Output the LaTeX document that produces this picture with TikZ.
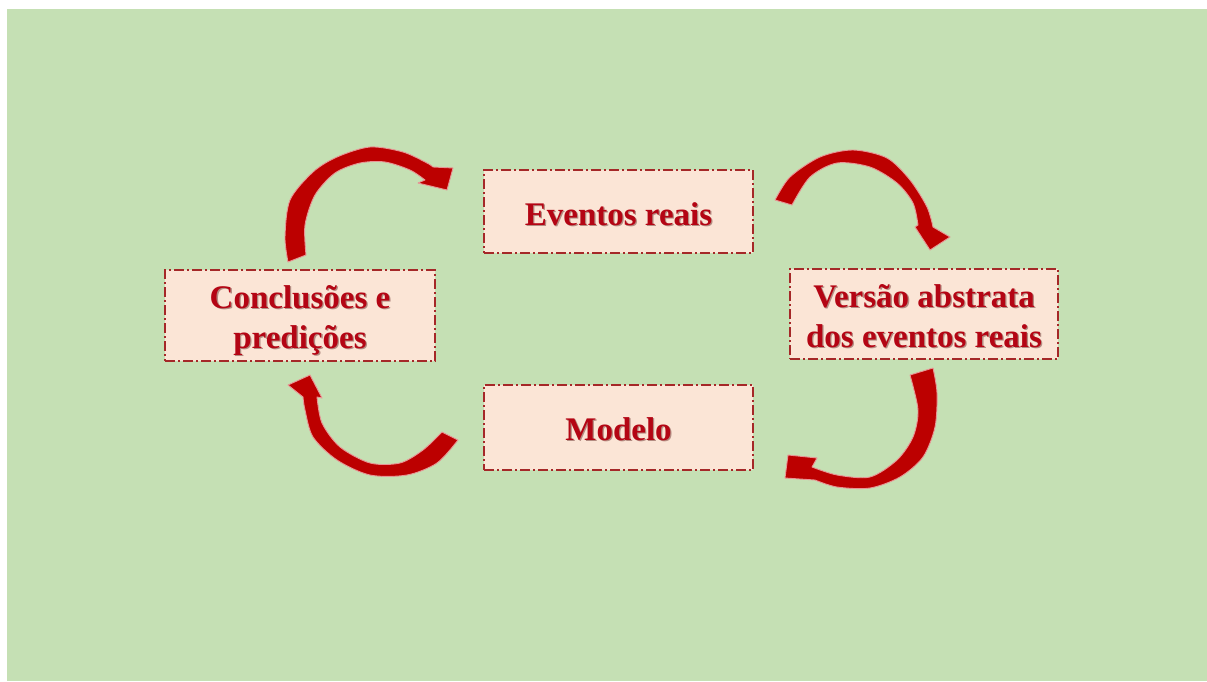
\documentclass[tikz,border=0pt]{standalone}
\usepackage{fontspec}
\setmainfont{Liberation Serif}
\definecolor{bggreen}{RGB}{197,224,180}
\definecolor{boxfill}{RGB}{251,229,214}
\definecolor{boxline}{RGB}{165,40,40}
\definecolor{txtred}{RGB}{180,5,20}
\definecolor{shadowc}{RGB}{180,140,130}
\definecolor{arrred}{RGB}{188,0,0}
\definecolor{arrglow}{RGB}{232,150,150}
\newcommand\shtext[1]{\leavevmode\rlap{\raisebox{-1.3pt}{\hspace{1.3pt}\textcolor{shadowc}{#1}}}\textcolor{txtred}{#1}}
\newcommand\topstrut[1]{\rule{0pt}{#1}}
\newcommand\botstrut[1]{\rule[-#1]{0pt}{#1}}
\tikzset{
  stagebox/.style={draw=boxline, fill=boxfill, line width=1.5pt,
    dash pattern=on 10pt off 3pt on 2pt off 3pt,
    inner sep=0pt, align=center,
    font=\fontsize{33}{40}\selectfont\bfseries},
  curvarrow/.style={fill=arrred, draw=arrglow, line width=0.9pt, line join=round}
}
\begin{document}
\begin{tikzpicture}[x=1pt,y=-1pt]
\useasboundingbox (0,0) rectangle (1207,681);
\fill[white] (0,0) rectangle (1207,681);
\fill[bggreen] (7,9) rectangle (1207,681);

\node[stagebox, minimum width=269pt, minimum height=83pt] (ev) at (618.5,211.5) {\topstrut{30pt}\shtext{Eventos reais}};
\node[stagebox, minimum width=270pt, minimum height=91pt] (co) at (300,315.5) {\topstrut{34pt}\shtext{Conclusões e}\\\shtext{predições}\botstrut{8pt}};
\node[stagebox, minimum width=268pt, minimum height=90pt] (ve) at (924,314) {\topstrut{35pt}\shtext{Versão abstrata}\\\shtext{dos eventos reais}\botstrut{8pt}};
\node[stagebox, minimum width=269pt, minimum height=85pt] (mo) at (618.5,427.5) {\topstrut{28pt}\shtext{Modelo}};

% top-left curved arrow (Conclusoes -> Eventos)
\path[curvarrow] plot[smooth] coordinates {(288,262) (285,237) (290,200) (313,172) (337,157) (370,147) (403,152) (427,163) (433,167)}
  -- (453,168) -- (447,190) -- (418,183)
  -- plot[smooth] coordinates {(425,180) (410,170) (385,162) (360,163) (335,173) (315,195) (305,225) (306,255)} -- cycle;

% top-right curved arrow (Eventos -> Versao)
\path[curvarrow] plot[smooth] coordinates {(775,200) (790,177) (820,157) (853,150) (887,158) (910,180) (927,207) (933,227)}
  -- (950,237) -- (930,250) -- (915,227)
  -- plot[smooth] coordinates {(918,225) (913,203) (897,183) (870,167) (837,163) (810,177) (792,205)} -- cycle;

% bottom-right curved arrow (Versao -> Modelo)
\path[curvarrow] plot[smooth] coordinates {(933,368) (937,393) (935,427) (923,457) (900,477) (870,488) (837,487) (815,480)}
  -- (785,478) -- (788,455) -- (817,458)
  -- plot[smooth] coordinates {(812,467) (837,475) (870,477) (897,460) (913,437) (918,410) (910,375)} -- cycle;

% bottom-left curved arrow (Modelo -> Conclusoes)
\path[curvarrow] plot[smooth] coordinates {(458,440) (437,463) (407,475) (370,475) (337,460) (313,437) (305,410) (303,397)}
  -- (288,385) -- (310,375) -- (322,398)
  -- plot[smooth] coordinates {(317,397) (322,423) (340,447) (370,463) (400,463) (423,450) (442,432)} -- cycle;
\end{tikzpicture}
\end{document}
